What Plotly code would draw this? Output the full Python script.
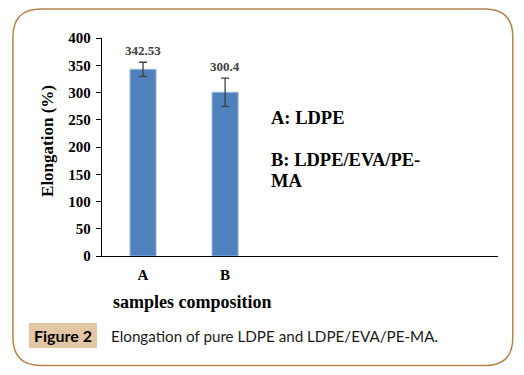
import plotly.graph_objects as go

# ---- data ----
categories = ["A", "B"]
elongation = [342.53, 300.4]
errors = [13, 26]
value_labels = ["342.53", "300.4"]
y_ticks = [0, 50, 100, 150, 200, 250, 300, 350, 400]
legend_lines = ["A: LDPE", "B: LDPE/EVA/PE-", "MA"]

W, H = 524, 375
L, R, T, B = 102, 26.3, 38, 119
PW, PH = W - L - R, H - T - B

def px(x):
    return (x - L) / PW

def py(y):
    return (H - B - y) / PH

SERIF = "Liberation Serif, Times New Roman, serif"

fig = go.Figure()
fig.add_trace(go.Bar(
    x=categories, y=elongation, width=0.317,
    marker=dict(color="#4f81bd", line=dict(color="#9bb5d8", width=1)),
    error_y=dict(type="data", array=errors, visible=True,
                 color="#404040", thickness=1.3, width=4),
    hoverinfo="skip",
))

annotations = []
for c, v, e, t in zip(categories, elongation, errors, value_labels):
    annotations.append(dict(x=c, y=v + e, xref="x", yref="y", text=t,
                            showarrow=False, yshift=12, yanchor="middle",
                            font=dict(family=SERIF, size=13, color="#404040", weight="bold")))

legend_y = [118, 160, 181]
for txt, yy in zip(legend_lines, legend_y):
    annotations.append(dict(x=px(269), y=py(yy), xref="paper", yref="paper", text=txt,
                            showarrow=False, xanchor="left", yanchor="middle",
                            font=dict(family=SERIF, size=18.5, color="black", weight="bold")))

annotations.append(dict(x=px(192), y=py(302), xref="paper", yref="paper",
                        text="samples composition", showarrow=False,
                        xanchor="center", yanchor="middle",
                        font=dict(family=SERIF, size=18, color="black", weight="bold")))
annotations.append(dict(x=px(47), y=py(141), xref="paper", yref="paper",
                        text="Elongation (%)", showarrow=False, textangle=-90,
                        xanchor="center", yanchor="middle",
                        font=dict(family=SERIF, size=17, color="black", weight="bold")))

# caption
annotations.append(dict(x=px(63), y=py(335.5), xref="paper", yref="paper",
                        text="Figure 2", showarrow=False, xanchor="center", yanchor="middle",
                        font=dict(family="Lato, sans-serif", size=16, color="black", weight="bold")))
annotations.append(dict(x=px(109), y=py(335.5), xref="paper", yref="paper",
                        text="Elongation of pure LDPE and LDPE/EVA/PE-MA.", showarrow=False,
                        xanchor="left", yanchor="middle",
                        font=dict(family="Lato, sans-serif", size=15.2, color="#1a1a1a")))

# rounded frame
x0, x1, y0, y1, r = 13, 512.5, 9, 365.5, 28
pts = [
    ("M", x0 + r, y0), ("L", x1 - r, y0), ("Q", x1, y0, x1, y0 + r),
    ("L", x1, y1 - r), ("Q", x1, y1, x1 - r, y1), ("L", x0 + r, y1),
    ("Q", x0, y1, x0, y1 - r), ("L", x0, y0 + r), ("Q", x0, y0, x0 + r, y0),
]
path = ""
for p in pts:
    cmd = p[0]
    coords = p[1:]
    s = []
    for i in range(0, len(coords), 2):
        s.append(f"{px(coords[i]):.5f},{py(coords[i+1]):.5f}")
    path += cmd + " ".join(s) + " "
path += "Z"

shapes = [
    dict(type="path", path=path, xref="paper", yref="paper",
         line=dict(color="#b5834b", width=1.5), fillcolor="rgba(0,0,0,0)", layer="below"),
    dict(type="rect", xref="paper", yref="paper", x0=px(29), x1=px(97),
         y0=py(348), y1=py(323), fillcolor="#e3c6a3", line=dict(width=0), layer="below"),
]

fig.update_layout(
    width=W, height=H,
    margin=dict(l=L, r=R, t=T, b=B, pad=0),
    paper_bgcolor="white", plot_bgcolor="white",
    showlegend=False,
    annotations=annotations, shapes=shapes,
    xaxis=dict(range=[-0.5, -0.5 + PW / 82], showline=True, linecolor="black", linewidth=1.3,
               ticks="", showgrid=False, zeroline=False,
               tickfont=dict(family=SERIF, size=15, color="black", weight="bold"), ticklabelstandoff=5),
    yaxis=dict(range=[0, 400], tickvals=y_ticks, showline=True, linecolor="black", linewidth=1.3,
               ticks="outside", ticklen=5, tickcolor="black", tickwidth=1,
               showgrid=False, zeroline=False, ticklabelstandoff=2,
               tickfont=dict(family=SERIF, size=15, color="black", weight="bold")),
)

fig.write_html("out.html", config={"displayModeBar": False},
               post_script="document.body.style.margin='0';document.body.style.overflow='hidden';")
